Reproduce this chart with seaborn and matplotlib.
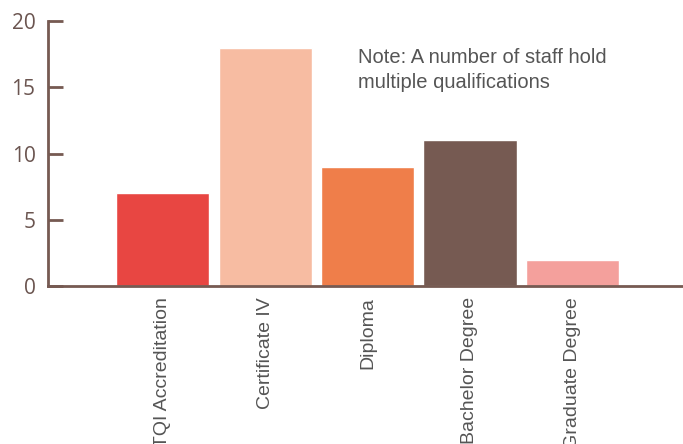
import numpy as np
import pandas as pd
import matplotlib
matplotlib.use('Agg')
import matplotlib.pyplot as plt
import seaborn as sns

# data
qualifications = ['TQI Accreditation', 'Certificate IV', 'Diploma', 'Bachelor Degree', 'Graduate Degree']
staff_counts = [7, 18, 9, 11, 2]
bar_colors = ['#E84642', '#F7BCA2', '#EF7E4A', '#765A52', '#F4A09C']

df = pd.DataFrame({'qualification': qualifications, 'count': staff_counts})

sns.set_style('white')
brown = '#765A52'

fig = plt.figure(figsize=(6.83, 4.44), dpi=100)
ax = fig.add_axes([48 / 683, 1 - 286 / 444, 1 - 48 / 683, (286 - 21) / 444])

sns.barplot(data=df, x='qualification', y='count', hue='qualification',
            palette=bar_colors, width=0.91, saturation=1, legend=False, ax=ax)

ax.set_xlim(-1.12, 5.08)
ax.set_ylim(0, 20)
ax.set_yticks([0, 5, 10, 15, 20])
ax.set_xlabel('')
ax.set_ylabel('')

for s in ['top', 'right']:
    ax.spines[s].set_visible(False)
for s in ['left', 'bottom']:
    ax.spines[s].set_color(brown)
    ax.spines[s].set_linewidth(2)

ax.tick_params(axis='y', left=True, direction='in', length=11, width=2, color=brown,
               labelsize=15, labelcolor='#6b5550', pad=9)
ax.tick_params(axis='x', bottom=False, length=0, pad=8)
for lbl in ax.get_yticklabels():
    lbl.set_family(['Open Sans', 'DejaVu Sans'])
ax.set_xticks(range(len(qualifications)))
ax.set_xticklabels(qualifications, rotation=90, va='top', ha='center',
                   fontsize=14, color='#555555',
                   family=['Liberation Sans', 'DejaVu Sans'])

ax.text(1.91, 18.0, 'Note: A number of staff hold\nmultiple qualifications',
        fontsize=14.5, color='#555555', va='top', ha='left', linespacing=1.45,
        family=['Liberation Sans', 'DejaVu Sans'])

fig.savefig('out.png', dpi=100)
